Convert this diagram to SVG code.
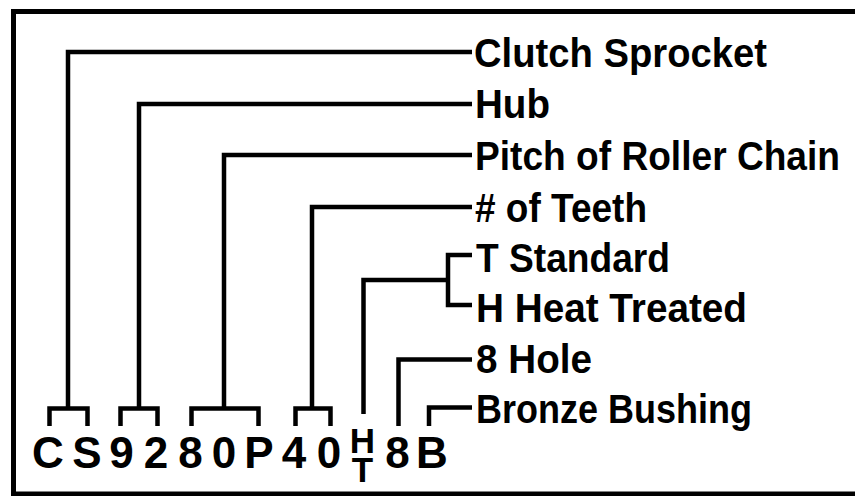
<svg xmlns="http://www.w3.org/2000/svg" width="855" height="496" viewBox="0 0 855 496">
<style>
  .frame { fill: none; stroke: #000; stroke-width: 5; }
  .wire { fill: none; stroke: #000; stroke-width: 4.5; stroke-linejoin: miter; stroke-linecap: butt; }
  .lbl { font-family: "Liberation Sans", Arial, sans-serif; font-weight: 700; font-size: 41px; fill: #000; }
  .code { font-family: "Liberation Sans", Arial, sans-serif; font-weight: 700; font-size: 44px; fill: #000; text-anchor: middle; }
  .small { font-family: "Liberation Sans", Arial, sans-serif; font-weight: 700; font-size: 35px; fill: #000; text-anchor: middle; }
</style>
<rect width="855" height="496" fill="#fff"/>
<rect class="frame" x="13.5" y="11.5" width="860" height="482.5"/>

<g id="connectors">
  <path class="wire" d="M49.5 426 V408.5 H87.5 V426 M68 408.5 V52 H472"/>
  <path class="wire" d="M120.5 426 V408.5 H157.5 V426 M139 408.5 V104 H472"/>
  <path class="wire" d="M191.5 426 V408.5 H258.5 V426 M224 408.5 V155 H472"/>
  <path class="wire" d="M295.5 426 V408.5 H330.5 V426 M312 408.5 V207 H472"/>
  <path class="wire" d="M363.5 414 V280 H448"/>
  <path class="wire" d="M472 255 H448 V305 H472"/>
  <path class="wire" d="M398.5 426 V359.5 H472"/>
  <path class="wire" d="M429 426 V407.5 H472"/>
</g>

<g id="code">
  <text class="code" x="48" y="468">C</text>
  <text class="code" x="87" y="468">S</text>
  <text class="code" x="121.5" y="468">9</text>
  <text class="code" x="156" y="468">2</text>
  <text class="code" x="190.5" y="468">8</text>
  <text class="code" x="224" y="468">0</text>
  <text class="code" x="259" y="468">P</text>
  <text class="code" x="294" y="468">4</text>
  <text class="code" x="329" y="468">0</text>
  <text class="small" x="362.5" y="453">H</text>
  <text class="small" x="362.5" y="482">T</text>
  <text class="code" x="397.5" y="468">8</text>
  <text class="code" x="432" y="468">B</text>
</g>

<g id="label-clutch-sprocket"><text class="lbl" x="474" y="67" textLength="293" lengthAdjust="spacingAndGlyphs">Clutch Sprocket</text></g>
<g id="label-hub"><text class="lbl" x="475" y="118" textLength="75" lengthAdjust="spacingAndGlyphs">Hub</text></g>
<g id="label-pitch"><text class="lbl" x="475" y="169.5" textLength="365" lengthAdjust="spacingAndGlyphs">Pitch of Roller Chain</text></g>
<g id="label-teeth"><text class="lbl" x="475" y="221.5" textLength="172" lengthAdjust="spacingAndGlyphs"># of Teeth</text></g>
<g id="label-t-standard"><text class="lbl" x="476" y="272" textLength="194" lengthAdjust="spacingAndGlyphs">T Standard</text></g>
<g id="label-h-heat-treated"><text class="lbl" x="476" y="322" textLength="271" lengthAdjust="spacingAndGlyphs">H Heat Treated</text></g>
<g id="label-8-hole"><text class="lbl" x="476" y="373" textLength="116" lengthAdjust="spacingAndGlyphs">8 Hole</text></g>
<g id="label-bronze-bushing"><text class="lbl" x="476" y="423" textLength="276" lengthAdjust="spacingAndGlyphs">Bronze Bushing</text></g>
</svg>
